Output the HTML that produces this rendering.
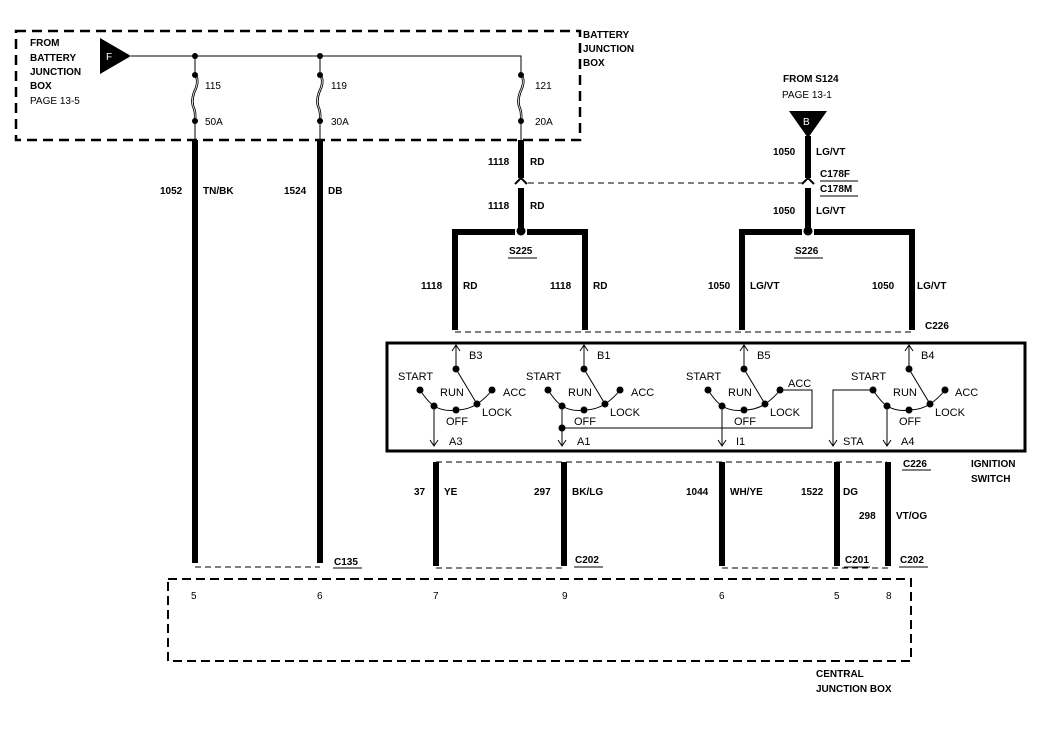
<!DOCTYPE html>
<html><head><meta charset="utf-8"><style>
html,body{margin:0;padding:0;background:#fff;}
svg{display:block;font-family:"Liberation Sans",sans-serif;}
.b{font-weight:bold;font-size:10px;}
.n{font-size:10px;}
.s{font-size:11px;}
</style></head><body>
<svg width="1050" height="731" viewBox="0 0 1050 731" xmlns="http://www.w3.org/2000/svg">
<defs>
<g id="sw" fill="none" stroke="#000">
 <line x1="22" y1="-60" x2="22" y2="-38" stroke-width="1"/>
 <path d="M18,-55 L22,-61 L26,-55" stroke-width="1"/>
 <circle cx="22" cy="-37" r="3.5" fill="#000" stroke="none"/>
 <line x1="22" y1="-37" x2="43" y2="-2" stroke-width="1"/>
 <path d="M-14,-16 Q-6,-4 0,0 Q10,6 22,4 Q34,4 43,-2 Q52,-8 58,-16" stroke-width="1"/>
 <circle cx="-14" cy="-16" r="3.5" fill="#000" stroke="none"/>
 <circle cx="0" cy="0" r="3.5" fill="#000" stroke="none"/>
 <circle cx="22" cy="4" r="3.5" fill="#000" stroke="none"/>
 <circle cx="43" cy="-2" r="3.5" fill="#000" stroke="none"/>
 <circle cx="58" cy="-16" r="3.5" fill="#000" stroke="none"/>
 <line x1="0" y1="0" x2="0" y2="40" stroke-width="1"/>
 <path d="M-4,34 L0,40 L4,34" stroke-width="1"/>
 <g fill="#000" stroke="none" class="s">
  <text x="-36" y="-26">START</text>
  <text x="6" y="-10">RUN</text>
  <text x="12" y="19">OFF</text>
  <text x="48" y="10">LOCK</text>
 </g>
</g>
</defs>

<!-- battery junction box -->
<rect x="16" y="31" width="564" height="109" fill="none" stroke="#000" stroke-width="2.5" stroke-dasharray="10,6"/>
<text class="b" x="30" y="46">FROM</text>
<text class="b" x="30" y="61">BATTERY</text>
<text class="b" x="30" y="75">JUNCTION</text>
<text class="b" x="30" y="89">BOX</text>
<text class="n" x="30" y="104">PAGE 13-5</text>
<polygon points="100,38 100,74 131,56" fill="#000"/>
<text x="106" y="60" fill="#fff" font-size="10">F</text>
<polyline points="131,56 521,56 521,74" fill="none" stroke="#000"/>
<text class="b" x="583" y="38">BATTERY</text>
<text class="b" x="583" y="52">JUNCTION</text>
<text class="b" x="583" y="66">BOX</text>

<g stroke="#000" fill="none">
 <line x1="195" y1="56" x2="195" y2="74"/><line x1="320" y1="56" x2="320" y2="74"/>
 <path d="M195,74 q4,6 1,14 q-5,10 -3,18 q3,6 2,15" stroke-width="2.5"/>
 <path d="M195,74 q4,6 1,14 q-5,10 -3,18 q3,6 2,15" stroke="#fff" stroke-width="0.8"/>
 <path d="M320,74 q4,6 1,14 q-5,10 -3,18 q3,6 2,15" stroke-width="2.5"/>
 <path d="M320,74 q4,6 1,14 q-5,10 -3,18 q3,6 2,15" stroke="#fff" stroke-width="0.8"/>
 <path d="M521,74 q4,6 1,14 q-5,10 -3,18 q3,6 2,15" stroke-width="2.5"/>
 <path d="M521,74 q4,6 1,14 q-5,10 -3,18 q3,6 2,15" stroke="#fff" stroke-width="0.8"/>
 <line x1="195" y1="121" x2="195" y2="140"/><line x1="320" y1="121" x2="320" y2="140"/><line x1="521" y1="121" x2="521" y2="140"/>
</g>
<g fill="#000">
 <circle cx="195" cy="56" r="3"/><circle cx="320" cy="56" r="3"/>
 <circle cx="195" cy="75" r="3"/><circle cx="320" cy="75" r="3"/><circle cx="521" cy="75" r="3"/>
 <circle cx="195" cy="121" r="3"/><circle cx="320" cy="121" r="3"/><circle cx="521" cy="121" r="3"/>
</g>
<text class="n" x="205" y="89">115</text><text class="n" x="331" y="89">119</text><text class="n" x="535" y="89">121</text>
<text class="n" x="205" y="125">50A</text><text class="n" x="331" y="125">30A</text><text class="n" x="535" y="125">20A</text>

<!-- left long wires -->
<line x1="195" y1="140" x2="195" y2="563" stroke="#000" stroke-width="6"/>
<line x1="320" y1="140" x2="320" y2="563" stroke="#000" stroke-width="6"/>
<text class="b" x="160" y="194">1052</text><text class="b" x="203" y="194">TN/BK</text>
<text class="b" x="284" y="194">1524</text><text class="b" x="328" y="194">DB</text>
<line x1="195" y1="567" x2="320" y2="567" stroke="#000" stroke-dasharray="6,4"/>
<text class="b" x="334" y="565">C135</text><line x1="333" y1="568" x2="362" y2="568" stroke="#000"/>

<!-- 1118 path -->
<line x1="521" y1="140" x2="521" y2="178" stroke="#000" stroke-width="6"/>
<line x1="521" y1="188" x2="521" y2="228" stroke="#000" stroke-width="6"/>
<path d="M515,184 L521,178 L527,184" fill="none" stroke="#000" stroke-width="2"/>
<text class="b" x="488" y="165">1118</text><text class="b" x="530" y="165">RD</text>
<text class="b" x="488" y="209">1118</text><text class="b" x="530" y="209">RD</text>
<line x1="528" y1="183" x2="803" y2="183" stroke="#000" stroke-dasharray="6,4"/>
<circle cx="521" cy="231" r="4.5" fill="#000"/>
<polyline points="515,232 455,232 455,330" fill="none" stroke="#000" stroke-width="6"/>
<polyline points="527,232 585,232 585,330" fill="none" stroke="#000" stroke-width="6"/>
<text class="b" x="509" y="254">S225</text><line x1="508" y1="258" x2="537" y2="258" stroke="#000"/>
<text class="b" x="421" y="289">1118</text><text class="b" x="463" y="289">RD</text>
<text class="b" x="550" y="289">1118</text><text class="b" x="593" y="289">RD</text>

<!-- 1050 path -->
<text class="b" x="783" y="82">FROM S124</text>
<text class="n" x="782" y="98">PAGE 13-1</text>
<polygon points="789,111 827,111 808,138" fill="#000"/>
<text x="803" y="125" fill="#fff" font-size="10">B</text>
<line x1="808" y1="136" x2="808" y2="178" stroke="#000" stroke-width="6"/>
<line x1="808" y1="188" x2="808" y2="228" stroke="#000" stroke-width="6"/>
<path d="M802,184 L808,178 L814,184" fill="none" stroke="#000" stroke-width="2"/>
<text class="b" x="773" y="155">1050</text><text class="b" x="816" y="155">LG/VT</text>
<text class="b" x="820" y="177">C178F</text><line x1="820" y1="181" x2="858" y2="181" stroke="#000"/>
<text class="b" x="820" y="192">C178M</text><line x1="820" y1="196" x2="858" y2="196" stroke="#000"/>
<text class="b" x="773" y="214">1050</text><text class="b" x="816" y="214">LG/VT</text>
<circle cx="808" cy="231" r="4.5" fill="#000"/>
<polyline points="802,232 742,232 742,330" fill="none" stroke="#000" stroke-width="6"/>
<polyline points="814,232 912,232 912,330" fill="none" stroke="#000" stroke-width="6"/>
<text class="b" x="795" y="254">S226</text><line x1="794" y1="258" x2="823" y2="258" stroke="#000"/>
<text class="b" x="708" y="289">1050</text><text class="b" x="750" y="289">LG/VT</text>
<text class="b" x="872" y="289">1050</text><text class="b" x="917" y="289">LG/VT</text>
<line x1="455" y1="332" x2="912" y2="332" stroke="#000" stroke-dasharray="6,4"/>
<text class="b" x="925" y="329">C226</text>

<!-- switch box -->
<rect x="387" y="343" width="638" height="108" fill="none" stroke="#000" stroke-width="3"/>
<use href="#sw" x="434" y="406"/>
<use href="#sw" x="562" y="406"/>
<use href="#sw" x="722" y="406"/>
<use href="#sw" x="887" y="406"/>
<g class="s">
 <text x="469" y="359">B3</text><text x="597" y="359">B1</text><text x="757" y="359">B5</text><text x="921" y="359">B4</text>
 <text x="503" y="396">ACC</text><text x="631" y="396">ACC</text><text x="788" y="387">ACC</text><text x="955" y="396">ACC</text>
 <text x="449" y="445">A3</text><text x="577" y="445">A1</text><text x="736" y="445">I1</text><text x="843" y="445">STA</text><text x="901" y="445">A4</text>
</g>
<g stroke="#000" fill="none">
 <polyline points="562,428 812,428 812,390 780,390"/>
 <polyline points="873,390 833,390 833,446"/>
 <path d="M829,440 L833,446 L837,440"/>
</g>
<circle cx="562" cy="428" r="3.5" fill="#000"/>

<!-- lower wires -->
<line x1="436" y1="462" x2="887" y2="462" stroke="#000" stroke-dasharray="6,4"/>
<g stroke="#000" stroke-width="6">
 <line x1="436" y1="462" x2="436" y2="566"/><line x1="564" y1="462" x2="564" y2="566"/>
 <line x1="722" y1="462" x2="722" y2="566"/><line x1="837" y1="462" x2="837" y2="566"/>
 <line x1="888" y1="462" x2="888" y2="566"/>
</g>
<text class="b" x="903" y="467">C226</text><line x1="902" y1="470" x2="931" y2="470" stroke="#000"/>
<text class="b" x="971" y="467">IGNITION</text>
<text class="b" x="971" y="482">SWITCH</text>
<text class="b" x="414" y="495">37</text><text class="b" x="444" y="495">YE</text>
<text class="b" x="534" y="495">297</text><text class="b" x="572" y="495">BK/LG</text>
<text class="b" x="686" y="495">1044</text><text class="b" x="730" y="495">WH/YE</text>
<text class="b" x="801" y="495">1522</text><text class="b" x="843" y="495">DG</text>
<text class="b" x="859" y="519">298</text><text class="b" x="896" y="519">VT/OG</text>
<line x1="436" y1="568" x2="564" y2="568" stroke="#000" stroke-dasharray="6,4"/>
<line x1="722" y1="568" x2="888" y2="568" stroke="#000" stroke-dasharray="6,4"/>
<text class="b" x="575" y="563">C202</text><line x1="574" y1="567" x2="603" y2="567" stroke="#000"/>
<text class="b" x="845" y="563">C201</text><line x1="844" y1="567" x2="870" y2="567" stroke="#000"/>
<text class="b" x="900" y="563">C202</text><line x1="899" y1="567" x2="928" y2="567" stroke="#000"/>

<!-- central junction box -->
<rect x="168" y="579" width="743" height="82" fill="none" stroke="#000" stroke-width="2" stroke-dasharray="9,5"/>
<g class="n">
 <text x="191" y="599">5</text><text x="317" y="599">6</text><text x="433" y="599">7</text><text x="562" y="599">9</text>
 <text x="719" y="599">6</text><text x="834" y="599">5</text><text x="886" y="599">8</text>
</g>
<text class="b" x="816" y="677">CENTRAL</text>
<text class="b" x="816" y="692">JUNCTION BOX</text>
</svg>
</body></html>
